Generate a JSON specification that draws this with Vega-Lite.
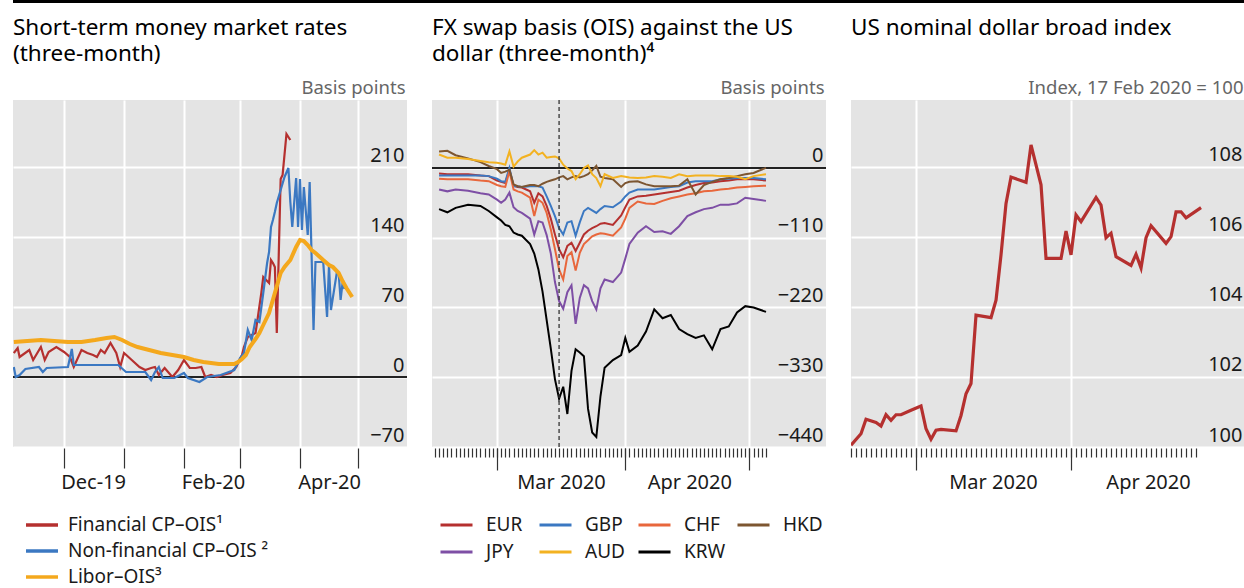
{
  "$schema": "https://vega.github.io/schema/vega-lite/v6.json",
  "padding": {"left": 11, "top": 0, "right": 0, "bottom": 0},
  "background": "white",
  "datasets": {
    "p1": [
      {"d":"2019-11-05","s":"Financial CP–OIS¹","v":24},{"d":"2019-11-07","s":"Financial CP–OIS¹","v":29},{"d":"2019-11-08","s":"Financial CP–OIS¹","v":20},{"d":"2019-11-13","s":"Financial CP–OIS¹","v":27},{"d":"2019-11-15","s":"Financial CP–OIS¹","v":17},{"d":"2019-11-19","s":"Financial CP–OIS¹","v":30},{"d":"2019-11-21","s":"Financial CP–OIS¹","v":17},{"d":"2019-11-23","s":"Financial CP–OIS¹","v":25},{"d":"2019-11-27","s":"Financial CP–OIS¹","v":30},{"d":"2019-12-01","s":"Financial CP–OIS¹","v":25},{"d":"2019-12-04","s":"Financial CP–OIS¹","v":20},{"d":"2019-12-06","s":"Financial CP–OIS¹","v":10},{"d":"2019-12-10","s":"Financial CP–OIS¹","v":27},{"d":"2019-12-13","s":"Financial CP–OIS¹","v":24},{"d":"2019-12-16","s":"Financial CP–OIS¹","v":22},{"d":"2019-12-18","s":"Financial CP–OIS¹","v":20},{"d":"2019-12-20","s":"Financial CP–OIS¹","v":27},{"d":"2019-12-22","s":"Financial CP–OIS¹","v":24},{"d":"2019-12-25","s":"Financial CP–OIS¹","v":34},{"d":"2019-12-28","s":"Financial CP–OIS¹","v":24},{"d":"2019-12-30","s":"Financial CP–OIS¹","v":10},{"d":"2020-01-01","s":"Financial CP–OIS¹","v":24},{"d":"2020-01-05","s":"Financial CP–OIS¹","v":17},{"d":"2020-01-09","s":"Financial CP–OIS¹","v":10},{"d":"2020-01-12","s":"Financial CP–OIS¹","v":7},{"d":"2020-01-15","s":"Financial CP–OIS¹","v":9},{"d":"2020-01-17","s":"Financial CP–OIS¹","v":10},{"d":"2020-01-19","s":"Financial CP–OIS¹","v":2},{"d":"2020-01-22","s":"Financial CP–OIS¹","v":9},{"d":"2020-01-26","s":"Financial CP–OIS¹","v":0},{"d":"2020-01-29","s":"Financial CP–OIS¹","v":7},{"d":"2020-02-01","s":"Financial CP–OIS¹","v":17},{"d":"2020-02-04","s":"Financial CP–OIS¹","v":9},{"d":"2020-02-07","s":"Financial CP–OIS¹","v":9},{"d":"2020-02-10","s":"Financial CP–OIS¹","v":10},{"d":"2020-02-12","s":"Financial CP–OIS¹","v":0},{"d":"2020-02-15","s":"Financial CP–OIS¹","v":2},{"d":"2020-02-18","s":"Financial CP–OIS¹","v":0},{"d":"2020-02-21","s":"Financial CP–OIS¹","v":2},{"d":"2020-02-25","s":"Financial CP–OIS¹","v":4},{"d":"2020-02-28","s":"Financial CP–OIS¹","v":10},{"d":"2020-03-02","s":"Financial CP–OIS¹","v":22},{"d":"2020-03-03","s":"Financial CP–OIS¹","v":30},{"d":"2020-03-05","s":"Financial CP–OIS¹","v":40},{"d":"2020-03-09","s":"Financial CP–OIS¹","v":44},{"d":"2020-03-10","s":"Financial CP–OIS¹","v":57},{"d":"2020-03-12","s":"Financial CP–OIS¹","v":84},{"d":"2020-03-13","s":"Financial CP–OIS¹","v":100},{"d":"2020-03-16","s":"Financial CP–OIS¹","v":94},{"d":"2020-03-17","s":"Financial CP–OIS¹","v":117},{"d":"2020-03-18","s":"Financial CP–OIS¹","v":114},{"d":"2020-03-19","s":"Financial CP–OIS¹","v":110},{"d":"2020-03-20","s":"Financial CP–OIS¹","v":44},{"d":"2020-03-22","s":"Financial CP–OIS¹","v":198},{"d":"2020-03-23","s":"Financial CP–OIS¹","v":202},{"d":"2020-03-25","s":"Financial CP–OIS¹","v":243},{"d":"2020-03-27","s":"Financial CP–OIS¹","v":237},
      {"d":"2019-11-05","s":"Non-financial CP–OIS ²","v":10},{"d":"2019-11-06","s":"Non-financial CP–OIS ²","v":0},{"d":"2019-11-08","s":"Non-financial CP–OIS ²","v":2},{"d":"2019-11-11","s":"Non-financial CP–OIS ²","v":8},{"d":"2019-11-18","s":"Non-financial CP–OIS ²","v":10},{"d":"2019-11-20","s":"Non-financial CP–OIS ²","v":5},{"d":"2019-11-22","s":"Non-financial CP–OIS ²","v":9},{"d":"2019-12-03","s":"Non-financial CP–OIS ²","v":10},{"d":"2019-12-05","s":"Non-financial CP–OIS ²","v":28},{"d":"2019-12-06","s":"Non-financial CP–OIS ²","v":12},{"d":"2019-12-19","s":"Non-financial CP–OIS ²","v":12},{"d":"2019-12-29","s":"Non-financial CP–OIS ²","v":12},{"d":"2020-01-02","s":"Non-financial CP–OIS ²","v":5},{"d":"2020-01-12","s":"Non-financial CP–OIS ²","v":5},{"d":"2020-01-15","s":"Non-financial CP–OIS ²","v":-3},{"d":"2020-01-17","s":"Non-financial CP–OIS ²","v":5},{"d":"2020-01-19","s":"Non-financial CP–OIS ²","v":10},{"d":"2020-01-21","s":"Non-financial CP–OIS ²","v":-1},{"d":"2020-01-27","s":"Non-financial CP–OIS ²","v":-1},{"d":"2020-02-01","s":"Non-financial CP–OIS ²","v":4},{"d":"2020-02-03","s":"Non-financial CP–OIS ²","v":-1},{"d":"2020-02-09","s":"Non-financial CP–OIS ²","v":-5},{"d":"2020-02-13","s":"Non-financial CP–OIS ²","v":0},{"d":"2020-02-20","s":"Non-financial CP–OIS ²","v":2},{"d":"2020-02-27","s":"Non-financial CP–OIS ²","v":7},{"d":"2020-03-01","s":"Non-financial CP–OIS ²","v":19},{"d":"2020-03-03","s":"Non-financial CP–OIS ²","v":24},{"d":"2020-03-05","s":"Non-financial CP–OIS ²","v":47},{"d":"2020-03-07","s":"Non-financial CP–OIS ²","v":37},{"d":"2020-03-09","s":"Non-financial CP–OIS ²","v":57},{"d":"2020-03-11","s":"Non-financial CP–OIS ²","v":55},{"d":"2020-03-13","s":"Non-financial CP–OIS ²","v":84},{"d":"2020-03-15","s":"Non-financial CP–OIS ²","v":114},{"d":"2020-03-16","s":"Non-financial CP–OIS ²","v":125},{"d":"2020-03-17","s":"Non-financial CP–OIS ²","v":150},{"d":"2020-03-18","s":"Non-financial CP–OIS ²","v":157},{"d":"2020-03-19","s":"Non-financial CP–OIS ²","v":165},{"d":"2020-03-20","s":"Non-financial CP–OIS ²","v":174},{"d":"2020-03-22","s":"Non-financial CP–OIS ²","v":187},{"d":"2020-03-24","s":"Non-financial CP–OIS ²","v":200},{"d":"2020-03-26","s":"Non-financial CP–OIS ²","v":209},{"d":"2020-03-27","s":"Non-financial CP–OIS ²","v":175},{"d":"2020-03-28","s":"Non-financial CP–OIS ²","v":150},{"d":"2020-03-30","s":"Non-financial CP–OIS ²","v":199},{"d":"2020-03-31","s":"Non-financial CP–OIS ²","v":150},{"d":"2020-04-01","s":"Non-financial CP–OIS ²","v":198},{"d":"2020-04-02","s":"Non-financial CP–OIS ²","v":147},{"d":"2020-04-03","s":"Non-financial CP–OIS ²","v":190},{"d":"2020-04-05","s":"Non-financial CP–OIS ²","v":142},{"d":"2020-04-06","s":"Non-financial CP–OIS ²","v":195},{"d":"2020-04-08","s":"Non-financial CP–OIS ²","v":47},{"d":"2020-04-09","s":"Non-financial CP–OIS ²","v":115},{"d":"2020-04-13","s":"Non-financial CP–OIS ²","v":115},{"d":"2020-04-15","s":"Non-financial CP–OIS ²","v":60},{"d":"2020-04-16","s":"Non-financial CP–OIS ²","v":112},{"d":"2020-04-17","s":"Non-financial CP–OIS ²","v":67},{"d":"2020-04-20","s":"Non-financial CP–OIS ²","v":104},{"d":"2020-04-21","s":"Non-financial CP–OIS ²","v":104},{"d":"2020-04-22","s":"Non-financial CP–OIS ²","v":77},{"d":"2020-04-23","s":"Non-financial CP–OIS ²","v":94},{"d":"2020-04-24","s":"Non-financial CP–OIS ²","v":88},
      {"d":"2019-11-05","s":"Libor–OIS³","v":35},{"d":"2019-11-12","s":"Libor–OIS³","v":36},{"d":"2019-11-19","s":"Libor–OIS³","v":37},{"d":"2019-11-26","s":"Libor–OIS³","v":36},{"d":"2019-12-03","s":"Libor–OIS³","v":35},{"d":"2019-12-10","s":"Libor–OIS³","v":35},{"d":"2019-12-17","s":"Libor–OIS³","v":37},{"d":"2019-12-23","s":"Libor–OIS³","v":39},{"d":"2019-12-27","s":"Libor–OIS³","v":40},{"d":"2019-12-31","s":"Libor–OIS³","v":37},{"d":"2020-01-04","s":"Libor–OIS³","v":33},{"d":"2020-01-08","s":"Libor–OIS³","v":30},{"d":"2020-01-14","s":"Libor–OIS³","v":27},{"d":"2020-01-20","s":"Libor–OIS³","v":24},{"d":"2020-01-26","s":"Libor–OIS³","v":22},{"d":"2020-02-01","s":"Libor–OIS³","v":20},{"d":"2020-02-06","s":"Libor–OIS³","v":17},{"d":"2020-02-11","s":"Libor–OIS³","v":15},{"d":"2020-02-15","s":"Libor–OIS³","v":14},{"d":"2020-02-19","s":"Libor–OIS³","v":13},{"d":"2020-02-24","s":"Libor–OIS³","v":13},{"d":"2020-02-27","s":"Libor–OIS³","v":13},{"d":"2020-02-29","s":"Libor–OIS³","v":15},{"d":"2020-03-02","s":"Libor–OIS³","v":18},{"d":"2020-03-04","s":"Libor–OIS³","v":22},{"d":"2020-03-06","s":"Libor–OIS³","v":30},{"d":"2020-03-09","s":"Libor–OIS³","v":38},{"d":"2020-03-11","s":"Libor–OIS³","v":44},{"d":"2020-03-13","s":"Libor–OIS³","v":52},{"d":"2020-03-16","s":"Libor–OIS³","v":64},{"d":"2020-03-19","s":"Libor–OIS³","v":84},{"d":"2020-03-22","s":"Libor–OIS³","v":104},{"d":"2020-03-24","s":"Libor–OIS³","v":110},{"d":"2020-03-27","s":"Libor–OIS³","v":117},{"d":"2020-03-30","s":"Libor–OIS³","v":130},{"d":"2020-04-01","s":"Libor–OIS³","v":137},{"d":"2020-04-03","s":"Libor–OIS³","v":136},{"d":"2020-04-05","s":"Libor–OIS³","v":132},{"d":"2020-04-07","s":"Libor–OIS³","v":127},{"d":"2020-04-09","s":"Libor–OIS³","v":124},{"d":"2020-04-13","s":"Libor–OIS³","v":117},{"d":"2020-04-16","s":"Libor–OIS³","v":112},{"d":"2020-04-18","s":"Libor–OIS³","v":110},{"d":"2020-04-21","s":"Libor–OIS³","v":104},{"d":"2020-04-23","s":"Libor–OIS³","v":96},{"d":"2020-04-25","s":"Libor–OIS³","v":89},{"d":"2020-04-28","s":"Libor–OIS³","v":80}
    ],
    "p2": [
      {"d":"2020-02-16","EUR":-9,"GBP":-12,"CHF":-17,"HKD":26,"JPY":-34,"AUD":21,"KRW":-65},
      {"d":"2020-02-18","EUR":-10,"GBP":-12,"CHF":-18,"HKD":27,"JPY":-37,"AUD":16,"KRW":-70},
      {"d":"2020-02-20","EUR":-10,"GBP":-12,"CHF":-18,"HKD":20,"JPY":-34,"AUD":16,"KRW":-63},
      {"d":"2020-02-23","EUR":-10,"GBP":-12,"CHF":-18,"HKD":15,"JPY":-36,"AUD":14,"KRW":-58},
      {"d":"2020-02-26","EUR":-12,"GBP":-12,"CHF":-20,"HKD":9,"JPY":-40,"AUD":11,"KRW":-60},
      {"d":"2020-02-28","EUR":-13,"GBP":-13,"CHF":-21,"HKD":3,"JPY":-42,"AUD":9,"KRW":-68},
      {"d":"2020-03-01","EUR":-20,"GBP":-17,"CHF":-27,"HKD":-2,"JPY":-50,"AUD":8,"KRW":-78},
      {"d":"2020-03-02","EUR":-22,"GBP":-21,"CHF":-29,"HKD":-8,"JPY":-55,"AUD":7,"KRW":-83},
      {"d":"2020-03-03","EUR":-24,"GBP":-22,"CHF":-30,"HKD":-6,"JPY":-50,"AUD":5,"KRW":-90},
      {"d":"2020-03-04","EUR":-3,"GBP":0,"CHF":-5,"HKD":-3,"JPY":-39,"AUD":26,"KRW":-92},
      {"d":"2020-03-05","EUR":-28,"GBP":-29,"CHF":-34,"HKD":-26,"JPY":-62,"AUD":2,"KRW":-102},
      {"d":"2020-03-06","EUR":-30,"GBP":-29,"CHF":-37,"HKD":-29,"JPY":-68,"AUD":10,"KRW":-105},
      {"d":"2020-03-07","EUR":-31,"GBP":-30,"CHF":-39,"HKD":-30,"JPY":-71,"AUD":16,"KRW":-107},
      {"d":"2020-03-09","EUR":-37,"GBP":-29,"CHF":-47,"HKD":-27,"JPY":-80,"AUD":21,"KRW":-120},
      {"d":"2020-03-10","EUR":-55,"GBP":-29,"CHF":-76,"HKD":-27,"JPY":-105,"AUD":28,"KRW":-135},
      {"d":"2020-03-11","EUR":-40,"GBP":-29,"CHF":-50,"HKD":-29,"JPY":-84,"AUD":21,"KRW":-160},
      {"d":"2020-03-12","EUR":-45,"GBP":-31,"CHF":-55,"HKD":-25,"JPY":-86,"AUD":24,"KRW":-195},
      {"d":"2020-03-13","EUR":-60,"GBP":-45,"CHF":-71,"HKD":-22,"JPY":-106,"AUD":16,"KRW":-240},
      {"d":"2020-03-14","EUR":-80,"GBP":-60,"CHF":-97,"HKD":-20,"JPY":-135,"AUD":17,"KRW":-285},
      {"d":"2020-03-15","EUR":-105,"GBP":-76,"CHF":-128,"HKD":-18,"JPY":-180,"AUD":18,"KRW":-333},
      {"d":"2020-03-16","EUR":-128,"GBP":-95,"CHF":-160,"HKD":-15,"JPY":-210,"AUD":15,"KRW":-364},
      {"d":"2020-03-17","EUR":-141,"GBP":-105,"CHF":-176,"HKD":-13,"JPY":-222,"AUD":5,"KRW":-345},
      {"d":"2020-03-18","EUR":-123,"GBP":-86,"CHF":-139,"HKD":-18,"JPY":-196,"AUD":-1,"KRW":-388},
      {"d":"2020-03-19","EUR":-118,"GBP":-84,"CHF":-133,"HKD":-15,"JPY":-185,"AUD":-5,"KRW":-320},
      {"d":"2020-03-20","EUR":-131,"GBP":-107,"CHF":-162,"HKD":-13,"JPY":-246,"AUD":-18,"KRW":-286},
      {"d":"2020-03-21","EUR":-118,"GBP":-86,"CHF":-134,"HKD":-15,"JPY":-205,"AUD":-10,"KRW":-291},
      {"d":"2020-03-22","EUR":-105,"GBP":-68,"CHF":-120,"HKD":-13,"JPY":-185,"AUD":0,"KRW":-297},
      {"d":"2020-03-23","EUR":-99,"GBP":-63,"CHF":-114,"HKD":-10,"JPY":-190,"AUD":4,"KRW":-380},
      {"d":"2020-03-24","EUR":-95,"GBP":-67,"CHF":-108,"HKD":-4,"JPY":-210,"AUD":-10,"KRW":-417},
      {"d":"2020-03-25","EUR":-92,"GBP":-71,"CHF":-105,"HKD":3,"JPY":-223,"AUD":-16,"KRW":-424},
      {"d":"2020-03-26","EUR":-88,"GBP":-65,"CHF":-103,"HKD":-14,"JPY":-190,"AUD":-29,"KRW":-360},
      {"d":"2020-03-27","EUR":-87,"GBP":-60,"CHF":-104,"HKD":-16,"JPY":-176,"AUD":-10,"KRW":-315},
      {"d":"2020-03-29","EUR":-90,"GBP":-62,"CHF":-107,"HKD":-18,"JPY":-180,"AUD":-16,"KRW":-303},
      {"d":"2020-03-31","EUR":-75,"GBP":-53,"CHF":-94,"HKD":-30,"JPY":-165,"AUD":-13,"KRW":-295},
      {"d":"2020-04-01","EUR":-62,"GBP":-45,"CHF":-80,"HKD":-24,"JPY":-143,"AUD":-14,"KRW":-268},
      {"d":"2020-04-02","EUR":-50,"GBP":-39,"CHF":-63,"HKD":-22,"JPY":-120,"AUD":-15,"KRW":-290},
      {"d":"2020-04-04","EUR":-45,"GBP":-34,"CHF":-53,"HKD":-21,"JPY":-102,"AUD":-16,"KRW":-280},
      {"d":"2020-04-06","EUR":-44,"GBP":-34,"CHF":-56,"HKD":-26,"JPY":-92,"AUD":-15,"KRW":-258},
      {"d":"2020-04-08","EUR":-42,"GBP":-34,"CHF":-57,"HKD":-29,"JPY":-101,"AUD":-13,"KRW":-223},
      {"d":"2020-04-10","EUR":-40,"GBP":-32,"CHF":-52,"HKD":-29,"JPY":-100,"AUD":-14,"KRW":-237},
      {"d":"2020-04-12","EUR":-38,"GBP":-30,"CHF":-48,"HKD":-29,"JPY":-104,"AUD":-16,"KRW":-232},
      {"d":"2020-04-14","EUR":-36,"GBP":-29,"CHF":-45,"HKD":-28,"JPY":-92,"AUD":-10,"KRW":-254},
      {"d":"2020-04-16","EUR":-31,"GBP":-23,"CHF":-42,"HKD":-18,"JPY":-76,"AUD":-13,"KRW":-262},
      {"d":"2020-04-18","EUR":-27,"GBP":-21,"CHF":-40,"HKD":-42,"JPY":-70,"AUD":-12,"KRW":-268},
      {"d":"2020-04-20","EUR":-24,"GBP":-21,"CHF":-37,"HKD":-27,"JPY":-65,"AUD":-12,"KRW":-264},
      {"d":"2020-04-22","EUR":-23,"GBP":-21,"CHF":-36,"HKD":-22,"JPY":-63,"AUD":-12,"KRW":-286},
      {"d":"2020-04-24","EUR":-21,"GBP":-18,"CHF":-34,"HKD":-18,"JPY":-58,"AUD":-13,"KRW":-254},
      {"d":"2020-04-26","EUR":-20,"GBP":-17,"CHF":-33,"HKD":-16,"JPY":-58,"AUD":-13,"KRW":-250},
      {"d":"2020-04-28","EUR":-18,"GBP":-16,"CHF":-31,"HKD":-13,"JPY":-56,"AUD":-14,"KRW":-228},
      {"d":"2020-04-30","EUR":-18,"GBP":-16,"CHF":-30,"HKD":-10,"JPY":-47,"AUD":-18,"KRW":-218},
      {"d":"2020-05-02","EUR":-18,"GBP":-16,"CHF":-29,"HKD":-8,"JPY":-49,"AUD":-13,"KRW":-220},
      {"d":"2020-05-05","EUR":-20,"GBP":-18,"CHF":-28,"HKD":0,"JPY":-52,"AUD":-10,"KRW":-227}
    ],
    "p3": [
      {"d":"2020-02-17","v":100.05},{"d":"2020-02-19","v":100.38},{"d":"2020-02-20","v":100.79},{"d":"2020-02-22","v":100.7},{"d":"2020-02-23","v":100.6},{"d":"2020-02-24","v":100.92},{"d":"2020-02-25","v":100.76},{"d":"2020-02-26","v":100.92},{"d":"2020-02-27","v":100.92},{"d":"2020-02-29","v":101.05},{"d":"2020-03-02","v":101.17},{"d":"2020-03-03","v":100.52},{"d":"2020-03-04","v":100.22},{"d":"2020-03-05","v":100.48},{"d":"2020-03-06","v":100.5},{"d":"2020-03-09","v":100.46},{"d":"2020-03-10","v":100.9},{"d":"2020-03-11","v":101.52},{"d":"2020-03-12","v":101.81},{"d":"2020-03-13","v":103.76},{"d":"2020-03-16","v":103.69},{"d":"2020-03-17","v":104.19},{"d":"2020-03-18","v":105.48},{"d":"2020-03-19","v":106.95},{"d":"2020-03-20","v":107.7},{"d":"2020-03-23","v":107.55},{"d":"2020-03-24","v":108.62},{"d":"2020-03-25","v":108.05},{"d":"2020-03-26","v":107.48},{"d":"2020-03-27","v":105.38},{"d":"2020-03-30","v":105.38},{"d":"2020-03-31","v":106.16},{"d":"2020-04-01","v":105.48},{"d":"2020-04-02","v":106.62},{"d":"2020-04-03","v":106.43},{"d":"2020-04-06","v":107.12},{"d":"2020-04-07","v":106.9},{"d":"2020-04-08","v":105.97},{"d":"2020-04-09","v":106.1},{"d":"2020-04-10","v":105.43},{"d":"2020-04-13","v":105.18},{"d":"2020-04-14","v":105.5},{"d":"2020-04-15","v":105.11},{"d":"2020-04-16","v":105.97},{"d":"2020-04-17","v":106.31},{"d":"2020-04-20","v":105.81},{"d":"2020-04-21","v":106.0},{"d":"2020-04-22","v":106.71},{"d":"2020-04-23","v":106.71},{"d":"2020-04-24","v":106.54},{"d":"2020-04-27","v":106.83}
    ]
  },
  "spacing": 97,
  "bounds": "flush",
  "vconcat": [
    {
      "width": 1233, "height": 3,
      "view": {"fill": null, "stroke": null},
      "data": {"values": [{}]},
      "mark": {"type": "rule", "color": "#000", "strokeWidth": 3},
      "encoding": {"y": {"datum": 0.5, "type": "quantitative", "scale": {"domain": [0, 1]}, "axis": null}}
    },
    {
      "spacing": 25,
      "bounds": "flush",
      "resolve": {"scale": {"color": "independent"}, "legend": {"color": "independent"}},
      "hconcat": [
        {
          "width": 394, "height": 347,
          "title": {"text": ["Short-term money market rates", "(three-month)"]},
          "layer": [
            {
              "data": {"values": [{}]},
              "mark": {"type": "rule", "color": "#222", "strokeWidth": 2},
              "encoding": {"y": {"datum": 0, "type": "quantitative"}}
            },
            {
              "data": {"name": "p1"},
              "transform": [{"filter": "datum.s !== 'Libor–OIS³'"}],
              "mark": {"type": "line", "clip": true, "strokeWidth": 2.2},
              "encoding": {
                "x": {"field": "d", "type": "temporal",
                  "scale": {"type": "utc", "domain": [{"year": 2019, "month": 11, "date": 4, "hours": 14, "utc": true}, {"year": 2020, "month": 5, "date": 26, "hours": 8, "utc": true}]},
                  "axis": {"orient": "bottom", "title": null,
                    "values": [{"year": 2019, "month": 12, "date": 1, "utc": true}, {"year": 2020, "month": 1, "date": 1, "utc": true}, {"year": 2020, "month": 2, "date": 1, "utc": true}, {"year": 2020, "month": 3, "date": 1, "utc": true}, {"year": 2020, "month": 4, "date": 1, "utc": true}, {"year": 2020, "month": 5, "date": 1, "utc": true}],
                    "labelExpr": "(utcmonth(datum.value) == 11 || utcmonth(datum.value) == 1 || utcmonth(datum.value) == 3) ? utcFormat(datum.value, '%b-%y') : ''",
                    "grid": true, "gridColor": "#ffffff", "gridWidth": 2, "domain": false,
                    "ticks": true, "tickSize": 20, "tickColor": "#333333", "tickWidth": 1.2, "offset": 1,
                    "labelOffset": 29, "labelPadding": 4, "labelBaseline": "top", "labelAlign": "center", "labelFlush": false, "labelOverlap": false}},
                "y": {"field": "v", "type": "quantitative",
                  "scale": {"domain": [-70, 277], "nice": false, "zero": false},
                  "axis": {"orient": "right", "values": [-70, 0, 70, 140, 210], "format": "d",
                    "title": "Basis points", "titleAngle": 0, "titleAlign": "right", "titleBaseline": "alphabetic", "titleX": -2, "titleY": -7,
                    "grid": true, "gridColor": "#ffffff", "gridWidth": 2, "domain": false, "ticks": false, "tickSize": 0,
                    "labelAlign": "right", "labelBaseline": "alphabetic", "labelPadding": -3, "labelOffset": -6, "labelFlush": false, "labelOverlap": false}},
                "color": {"field": "s", "type": "nominal",
                  "scale": {"domain": ["Financial CP–OIS¹", "Non-financial CP–OIS ²", "Libor–OIS³"], "range": ["#b5302f", "#3b78c2", "#f4a81d"]},
                  "legend": {"title": null, "orient": "none", "legendX": 11, "legendY": 415, "direction": "vertical", "columns": 1, "padding": 0, "clipHeight": 20, "rowPadding": 6, "symbolStrokeWidth": 3.5, "labelOffset": 8}}
              }
            },
            {
              "data": {"name": "p1"},
              "transform": [{"filter": "datum.s === 'Libor–OIS³'"}],
              "mark": {"type": "line", "clip": true, "strokeWidth": 4},
              "encoding": {
                "x": {"field": "d", "type": "temporal"},
                "y": {"field": "v", "type": "quantitative"},
                "color": {"field": "s", "type": "nominal",
                  "scale": {"domain": ["Financial CP–OIS¹", "Non-financial CP–OIS ²", "Libor–OIS³"], "range": ["#b5302f", "#3b78c2", "#f4a81d"]},
                  "legend": {"title": null, "orient": "none", "legendX": 11, "legendY": 415, "direction": "vertical", "columns": 1, "padding": 0, "clipHeight": 20, "rowPadding": 6, "symbolStrokeWidth": 3.5, "labelOffset": 8}}
              }
            }
          ]
        },
        {
          "width": 394, "height": 347,
          "title": {"text": ["FX swap basis (OIS) against the US", "dollar (three-month)⁴"]},
          "resolve": {"axis": {"x": "independent"}},
          "layer": [
            {
              "data": {"values": [{}]},
              "mark": {"type": "rule", "color": "#222", "strokeWidth": 2},
              "encoding": {"y": {"datum": 0, "type": "quantitative"}}
            },
            {
              "data": {"name": "p2"},
              "transform": [{"fold": ["EUR", "GBP", "CHF", "HKD", "JPY", "AUD", "KRW"], "as": ["s", "v"]}],
              "mark": {"type": "line", "strokeWidth": 2, "clip": true},
              "encoding": {
                "x": {"field": "d", "type": "temporal",
                  "scale": {"type": "utc", "domain": [{"year": 2020, "month": 2, "date": 14, "hours": 7, "utc": true}, {"year": 2020, "month": 5, "date": 19, "hours": 12, "utc": true}]},
                  "axis": {"orient": "bottom", "title": null,
                    "values": [{"year": 2020, "month": 3, "date": 1, "utc": true}, {"year": 2020, "month": 4, "date": 1, "utc": true}, {"year": 2020, "month": 5, "date": 1, "utc": true}],
                    "labelExpr": "utcmonth(datum.value) < 4 ? utcFormat(datum.value, '%b %Y') : ''",
                    "grid": true, "gridColor": "#ffffff", "gridWidth": 2, "domain": false,
                    "ticks": true, "tickSize": 22, "tickColor": "#333333", "tickWidth": 1.2, "offset": 1,
                    "labelOffset": 64, "labelPadding": 2, "labelBaseline": "top", "labelAlign": "center", "labelFlush": false, "labelOverlap": false}},
                "y": {"field": "v", "type": "quantitative",
                  "scale": {"domain": [-440, 107], "nice": false, "zero": false},
                  "axis": {"orient": "right", "values": [-440, -330, -220, -110, 0], "format": "d",
                    "title": "Basis points", "titleAngle": 0, "titleAlign": "right", "titleBaseline": "alphabetic", "titleX": -2, "titleY": -7,
                    "grid": true, "gridColor": "#ffffff", "gridWidth": 2, "domain": false, "ticks": false, "tickSize": 0,
                    "labelAlign": "right", "labelBaseline": "alphabetic", "labelPadding": -3, "labelOffset": -6, "labelFlush": false, "labelOverlap": false}},
                "color": {"field": "s", "type": "nominal",
                  "scale": {"domain": ["EUR", "GBP", "CHF", "HKD", "JPY", "AUD", "KRW"], "range": ["#b5302f", "#3b78c2", "#e8673c", "#7d5631", "#7e4fa5", "#f3b221", "#000000"]},
                  "legend": {"title": null, "orient": "none", "legendX": 7, "legendY": 415, "direction": "horizontal", "columns": 4, "padding": 0, "clipHeight": 20, "rowPadding": 7, "columnPadding": 10, "gridAlign": "all", "symbolStrokeWidth": 3, "labelOffset": 12}}
              }
            },
            {
              "data": {"values": [{}]},
              "mark": {"type": "rule", "color": "#333333", "strokeWidth": 1.3, "strokeDash": [4, 3]},
              "encoding": {
                "x": {"datum": {"year": 2020, "month": 3, "date": 16, "utc": true}, "type": "temporal",
                  "axis": {"orient": "bottom", "title": null, "labels": false, "grid": false, "domain": false,
                    "ticks": true, "tickSize": 9, "tickColor": "#333333", "tickWidth": 1.2, "offset": 1,
                    "values": ["2020-02-15","2020-02-16","2020-02-17","2020-02-18","2020-02-19","2020-02-20","2020-02-21","2020-02-22","2020-02-23","2020-02-24","2020-02-25","2020-02-26","2020-02-27","2020-02-28","2020-02-29","2020-03-01","2020-03-02","2020-03-03","2020-03-04","2020-03-05","2020-03-06","2020-03-07","2020-03-08","2020-03-09","2020-03-10","2020-03-11","2020-03-12","2020-03-13","2020-03-14","2020-03-15","2020-03-16","2020-03-17","2020-03-18","2020-03-19","2020-03-20","2020-03-21","2020-03-22","2020-03-23","2020-03-24","2020-03-25","2020-03-26","2020-03-27","2020-03-28","2020-03-29","2020-03-30","2020-03-31","2020-04-01","2020-04-02","2020-04-03","2020-04-04","2020-04-05","2020-04-06","2020-04-07","2020-04-08","2020-04-09","2020-04-10","2020-04-11","2020-04-12","2020-04-13","2020-04-14","2020-04-15","2020-04-16","2020-04-17","2020-04-18","2020-04-19","2020-04-20","2020-04-21","2020-04-22","2020-04-23","2020-04-24","2020-04-25","2020-04-26","2020-04-27","2020-04-28","2020-04-29","2020-04-30","2020-05-01","2020-05-02","2020-05-03","2020-05-04","2020-05-05"]}}
              }
            }
          ]
        },
        {
          "width": 394, "height": 347,
          "title": {"text": ["US nominal dollar broad index", " "]},
          "resolve": {"axis": {"x": "independent"}},
          "data": {"name": "p3"},
          "layer": [
            {
              "mark": {"type": "line", "color": "#b5302f", "strokeWidth": 3.2, "clip": true},
              "encoding": {
                "x": {"field": "d", "type": "temporal",
                  "scale": {"type": "utc", "domain": [{"year": 2020, "month": 2, "date": 17, "utc": true}, {"year": 2020, "month": 5, "date": 5, "hours": 19, "utc": true}]},
                  "axis": {"orient": "bottom", "title": null,
                    "values": [{"year": 2020, "month": 3, "date": 1, "utc": true}, {"year": 2020, "month": 4, "date": 1, "utc": true}],
                    "labelExpr": "utcFormat(datum.value, '%b %Y')",
                    "grid": true, "gridColor": "#ffffff", "gridWidth": 2, "domain": false,
                    "ticks": true, "tickSize": 22, "tickColor": "#333333", "tickWidth": 1.2, "offset": 1,
                    "labelOffset": 77, "labelPadding": 2, "labelBaseline": "top", "labelAlign": "center", "labelFlush": false, "labelOverlap": false}},
                "y": {"field": "v", "type": "quantitative",
                  "scale": {"domain": [100, 109.9], "nice": false, "zero": false},
                  "axis": {"orient": "right", "values": [100, 102, 104, 106, 108], "format": "d",
                    "title": "Index, 17 Feb 2020 = 100", "titleAngle": 0, "titleAlign": "right", "titleBaseline": "alphabetic", "titleX": -2, "titleY": -7,
                    "grid": true, "gridColor": "#ffffff", "gridWidth": 2, "domain": false, "ticks": false, "tickSize": 0,
                    "labelAlign": "right", "labelBaseline": "alphabetic", "labelPadding": -3, "labelOffset": -6, "labelFlush": false, "labelOverlap": false}}
              }
            },
            {
              "mark": {"type": "line", "opacity": 0},
              "encoding": {
                "x": {"field": "d", "type": "temporal",
                  "axis": {"orient": "bottom", "title": null, "labels": false, "grid": false, "domain": false,
                    "ticks": true, "tickSize": 9, "tickColor": "#333333", "tickWidth": 1.2, "offset": 1,
                    "values": ["2020-02-17","2020-02-18","2020-02-19","2020-02-20","2020-02-21","2020-02-22","2020-02-23","2020-02-24","2020-02-25","2020-02-26","2020-02-27","2020-02-28","2020-02-29","2020-03-01","2020-03-02","2020-03-03","2020-03-04","2020-03-05","2020-03-06","2020-03-07","2020-03-08","2020-03-09","2020-03-10","2020-03-11","2020-03-12","2020-03-13","2020-03-14","2020-03-15","2020-03-16","2020-03-17","2020-03-18","2020-03-19","2020-03-20","2020-03-21","2020-03-22","2020-03-23","2020-03-24","2020-03-25","2020-03-26","2020-03-27","2020-03-28","2020-03-29","2020-03-30","2020-03-31","2020-04-01","2020-04-02","2020-04-03","2020-04-04","2020-04-05","2020-04-06","2020-04-07","2020-04-08","2020-04-09","2020-04-10","2020-04-11","2020-04-12","2020-04-13","2020-04-14","2020-04-15","2020-04-16","2020-04-17","2020-04-18","2020-04-19","2020-04-20","2020-04-21","2020-04-22","2020-04-23","2020-04-24","2020-04-25","2020-04-26"]}},
                "y": {"field": "v", "type": "quantitative"}
              }
            }
          ]
        }
      ]
    }
  ],
  "config": {
    "font": "Noto Sans",
    "view": {"stroke": null, "fill": "#e4e4e4"},
    "axis": {"labelFont": "Noto Sans", "labelFontSize": 20, "labelColor": "#1a1a1a", "titleFont": "Noto Sans", "titleFontSize": 18.5, "titleColor": "#666666", "titleFontWeight": "normal"},
    "legend": {"labelFont": "Noto Sans", "labelFontSize": 19, "labelColor": "#1a1a1a", "symbolType": "stroke", "symbolSize": 1024, "symbolStrokeWidth": 3, "labelOffset": 13, "labelLimit": 0},
    "title": {"font": "Noto Sans", "fontSize": 22.5, "fontWeight": "normal", "anchor": "start", "color": "#000000", "lineHeight": 25.5, "offset": 13, "frame": "group"}
  }
}
